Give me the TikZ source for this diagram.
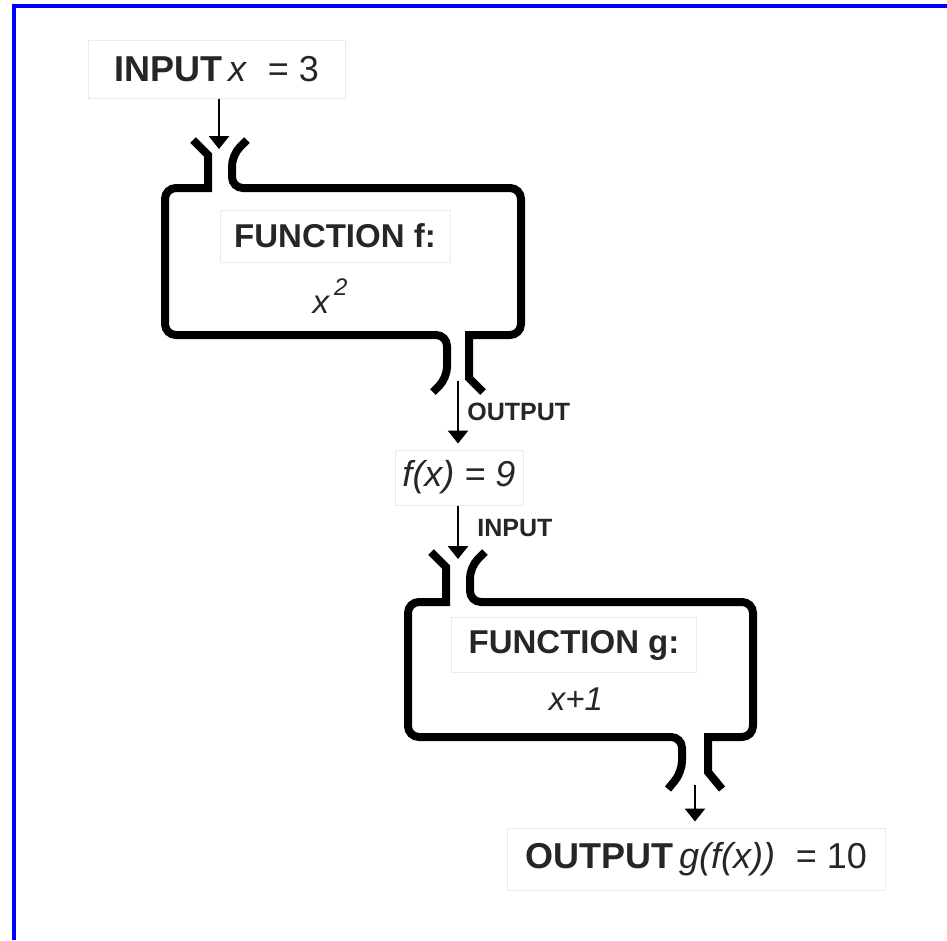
\documentclass[tikz,border=0pt]{standalone}
\usepackage{fontspec}
\setmainfont{Liberation Sans}
\usetikzlibrary{arrows.meta}
\begin{document}
\begin{tikzpicture}[x=1pt,y=-1pt,
  pipe/.style={line width=8pt},
  arr/.style={line width=2.8pt, -{Triangle[width=20pt,length=13pt]}},
  lblbox/.style={draw=black!8, line width=1pt, inner sep=0pt, text=black!85},
  big/.style={font=\fontsize{36}{40}\selectfont},
  mid/.style={font=\fontsize{33}{38}\selectfont},
  small/.style={font=\bfseries\fontsize{25}{28}\selectfont, inner sep=0pt, text=black!85}]
\useasboundingbox (0,0) rectangle (947,940);
\fill[white] (0,0) rectangle (947,940);
% blue frame (left and top)
\draw[blue, line width=4pt] (14,940) -- (14,6) -- (947,6);

% label nodes
\node[lblbox, big, minimum width=257pt, minimum height=58pt] (in) at (216.5,69)
  {\textbf{INPUT}\,\textit{x}\hspace{0.3em} = 3};
\node[lblbox, big, minimum width=128pt, minimum height=55pt] (fx) at (459,477.5)
  {\itshape f(x) = 9};
\node[lblbox, big, minimum width=378pt, minimum height=62pt] (out) at (696,859)
  {\textbf{OUTPUT}\,\textit{g(f(x))}\hspace{0.3em} = 10};

% function f
\node[lblbox, mid, minimum width=230pt, minimum height=52pt] (ftitle) at (335,236)
  {\textbf{FUNCTION f:}};
\node[mid, text=black!85, inner sep=0pt] (fexpr) at (330,296)
  {\textit{x}\raisebox{0.55em}{\fontsize{24}{26}\selectfont\textit{\,2}}};
\draw[pipe] (193,140) -- (208,155) -- (208,188) [rounded corners=11pt] -- (165,188)
  -- (165,335) -- (447,335) -- (447,378) [sharp corners] -- (433,392);
\draw[pipe] (483,392) -- (469,378) -- (469,335) [rounded corners=11pt] -- (521,335)
  -- (521,188) -- (232,188) -- (232,155) [sharp corners] -- (247,140);

% function g
\node[lblbox, mid, minimum width=245pt, minimum height=55pt] (gtitle) at (574,645)
  {\textbf{FUNCTION g:}};
\node[mid, text=black!85, inner sep=0pt] (gexpr) at (576,699) {\textit{x+1}};
\draw[pipe] (431,552) -- (446,567) -- (446,602) [rounded corners=11pt] -- (408,602)
  -- (408,737) -- (682,737) -- (682,772) [sharp corners] -- (668,789);
\draw[pipe] (722,789) -- (708,772) -- (708,737) [rounded corners=11pt] -- (753,737)
  -- (753,602) -- (470,602) -- (470,567) [sharp corners] -- (485,552);

% connector end points
\coordinate (ftop) at (219,149);
\coordinate (fbot) at (458,381);
\coordinate (gtop) at (458,559);
\coordinate (gbot) at (695,785);

\draw[arr] (in.south -| ftop) -- (ftop);
\draw[arr, shorten >=6pt] (fbot) -- (fx.north -| fbot)
  node[small, pos=0.45, anchor=west, xshift=8pt] (lout) {OUTPUT};
\draw[arr] (fx.south -| gtop) -- (gtop)
  node[small, pos=0.42, anchor=west, xshift=18pt] (lin) {INPUT};
\draw[arr, shorten >=6pt] (gbot) -- (out.north -| gbot);
\end{tikzpicture}
\end{document}
